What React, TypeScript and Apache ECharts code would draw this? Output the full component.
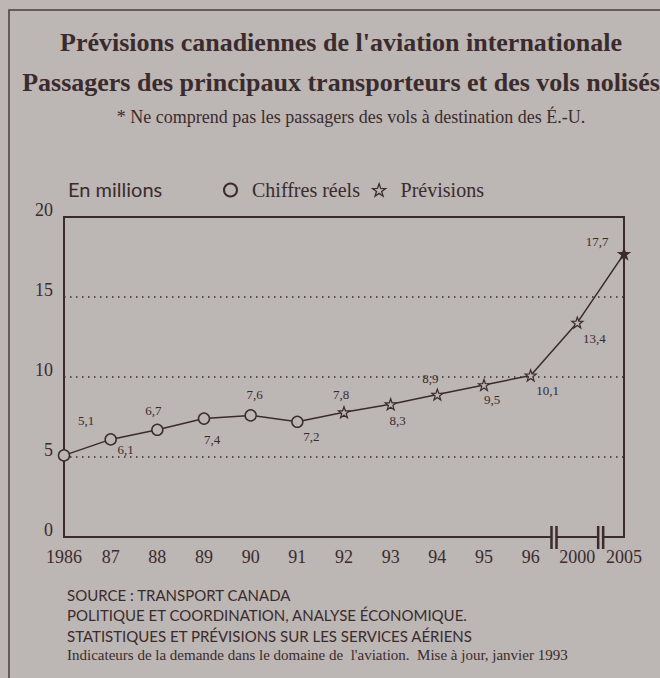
import React, { useEffect, useRef } from "react";
import * as echarts from "echarts";

const categories = ["1986", "87", "88", "89", "90", "91", "92", "93", "94", "95", "96", "2000", "2005"];
const passengers = [5.1, 6.1, 6.7, 7.4, 7.6, 7.2, 7.8, 8.3, 8.9, 9.5, 10.1, 13.4, 17.7];
const actualCount = 6; // 1986–1991 are actual figures, the rest forecasts
const axisBreaksAfter = ["96", "2000"];
const yTicks = { min: 0, max: 20, interval: 5 };

const titleLines = [
  "Prévisions canadiennes de l'aviation internationale",
  "Passagers des principaux transporteurs et des vols nolisés",
];
const subtitle = "* Ne comprend pas les passagers des vols à destination des É.-U.";
const unitLabel = "En millions";
const seriesNames = ["Chiffres réels", "Prévisions"];
const sourceLines = [
  "SOURCE : TRANSPORT CANADA",
  "POLITIQUE ET COORDINATION, ANALYSE ÉCONOMIQUE.",
  "STATISTIQUES ET PRÉVISIONS SUR LES SERVICES AÉRIENS",
];
const noteLine = "Indicateurs de la demande dans le domaine de  l'aviation.  Mise à jour, janvier 1993";

// label placement (style only)
const labelOffsets = [
  [22, -35], [15, 10], [-4, -19], [8, 21], [4, -21], [14, 15], [-3, -18],
  [7, 16], [-7, -16], [8, 14], [17, 15], [17, 16], [-27, -12],
];

const BG = "#bcb6b4";
const INK = "#3b2b2d";
const SERIF = "'Liberation Serif', 'Times New Roman', serif";
const SANS = "Lato, 'Noto Sans', sans-serif";
const STAR =
  "path://M50 0 L61.76 33.82 L97.55 34.55 L69.02 56.18 L79.39 90.45 L50 70 L20.61 90.45 L30.98 56.18 L2.45 34.55 L38.24 33.82 Z";

const fmt = (v: number) => String(v).replace(".", ",");

export default function App() {
  const ref = useRef<HTMLDivElement>(null);
  useEffect(() => {
    if (!ref.current) return;
    const chart = echarts.init(ref.current, null, { renderer: "svg" });
    const last = passengers.length - 1;

    const actualData = passengers.map((v, i) =>
      i < actualCount ? { value: v, label: { offset: labelOffsets[i] } } : "-"
    );
    const forecastData = passengers.map((v, i) => {
      if (i < actualCount - 1) return "-";
      if (i === actualCount - 1) return { value: v, symbol: "none", label: { show: false } };
      const item: any = { value: v, label: { offset: labelOffsets[i] } };
      if (i === last) item.itemStyle = { color: INK };
      return item;
    });

    const labelStyle = {
      show: true,
      position: "inside",
      formatter: (p: any) => fmt(p.value),
      fontFamily: SERIF,
      fontSize: 13,
      color: INK,
    };

    chart.setOption({
      animation: false,
      backgroundColor: BG,
      textStyle: { fontFamily: SERIF, color: INK },
      grid: {
        left: 64,
        right: 36,
        top: 217,
        bottom: 141,
        show: true,
        borderColor: INK,
        borderWidth: 2,
        backgroundColor: "transparent",
      },
      legend: {
        left: 218,
        top: 175,
        itemWidth: 13,
        itemHeight: 13,
        itemGap: 12,
        textStyle: { fontFamily: SERIF, fontSize: 20, color: INK, padding: [0, 0, 0, 10] },
        data: [
          { name: seriesNames[0], icon: "circle", itemStyle: { color: BG, borderColor: INK, borderWidth: 2 } },
          { name: seriesNames[1], icon: STAR, itemStyle: { color: BG, borderColor: INK, borderWidth: 1.3 } },
        ],
      },
      xAxis: {
        type: "category",
        data: categories,
        boundaryGap: false,
        axisLine: { show: true, lineStyle: { color: INK, width: 2 } },
        axisTick: { show: false },
        axisLabel: { interval: 0, fontFamily: SERIF, fontSize: 18, color: INK, margin: 11 },
        splitLine: { show: false },
      },
      yAxis: {
        type: "value",
        min: yTicks.min,
        max: yTicks.max,
        interval: yTicks.interval,
        axisLine: { show: true, lineStyle: { color: INK, width: 2 } },
        axisTick: { show: false },
        axisLabel: {
          fontFamily: SERIF,
          fontSize: 18,
          color: INK,
          margin: 11,
          verticalAlign: "bottom",
          lineHeight: 14,
        },
        splitLine: { show: true, lineStyle: { color: INK, width: 1.5, type: [1.5, 4.5] } },
      },
      series: [
        {
          name: seriesNames[0],
          type: "line",
          data: actualData,
          symbol: "circle",
          symbolSize: 11,
          connectNulls: false,
          lineStyle: { color: INK, width: 1.5 },
          itemStyle: { color: BG, borderColor: INK, borderWidth: 1.5 },
          label: labelStyle,
          z: 3,
        },
        {
          name: seriesNames[1],
          type: "line",
          data: forecastData,
          symbol: STAR,
          symbolSize: 11,
          lineStyle: { color: INK, width: 1.5 },
          itemStyle: { color: BG, borderColor: INK, borderWidth: 1.2 },
          label: labelStyle,
          z: 3,
        },
        {
          type: "custom",
          silent: true,
          clip: false,
          z: 5,
          data: axisBreaksAfter.map((c) => [c, 0]),
          renderItem: (params: any, api: any) => {
            const i = api.value(0);
            const a = api.coord([i, 0]);
            const b = api.coord([i + 1, 0]);
            const x = (a[0] + b[0]) / 2;
            const y = a[1];
            return {
              type: "group",
              children: [
                { type: "rect", shape: { x: x - 3, y: y - 2, width: 6, height: 4 }, style: { fill: BG } },
                { type: "line", shape: { x1: x - 2.5, y1: y - 11, x2: x - 2.5, y2: y + 12 }, style: { stroke: INK, lineWidth: 2.5 } },
                { type: "line", shape: { x1: x + 2.5, y1: y - 11, x2: x + 2.5, y2: y + 12 }, style: { stroke: INK, lineWidth: 2.5 } },
              ],
            };
          },
        },
      ],
      graphic: [
        {
          type: "rect",
          shape: { x: 9, y: 10, width: 700, height: 700 },
          style: { fill: "none", stroke: "#4a3c3e", lineWidth: 1.5 },
          silent: true,
        },
        {
          type: "text",
          x: 341,
          y: 42,
          style: { text: titleLines[0], font: `bold 26px ${SERIF}`, fill: INK, textAlign: "center", textVerticalAlign: "middle" },
        },
        {
          type: "text",
          x: 341,
          y: 82,
          style: { text: titleLines[1], font: `bold 26px ${SERIF}`, fill: INK, textAlign: "center", textVerticalAlign: "middle" },
        },
        {
          type: "text",
          x: 351,
          y: 117,
          style: { text: subtitle, font: `18px ${SERIF}`, fill: INK, textAlign: "center", textVerticalAlign: "middle" },
        },
        {
          type: "text",
          x: 68,
          y: 189,
          style: { text: unitLabel, font: `20px ${SANS}`, fill: INK, textAlign: "left", textVerticalAlign: "middle" },
        },
        ...sourceLines.map((t, k) => ({
          type: "text",
          x: 67,
          y: [595, 615, 636][k],
          style: { text: t, font: `15px ${SANS}`, fill: INK, textAlign: "left", textVerticalAlign: "middle" },
        })),
        {
          type: "text",
          x: 67,
          y: 655,
          style: { text: noteLine, font: `15px ${SERIF}`, fill: INK, textAlign: "left", textVerticalAlign: "middle" },
        },
      ],
    });
    return () => chart.dispose();
  }, []);
  return (
    <div
      ref={ref}
      style={{ position: "fixed", left: 0, top: 0, width: 660, height: 678 }}
    />
  );
}
